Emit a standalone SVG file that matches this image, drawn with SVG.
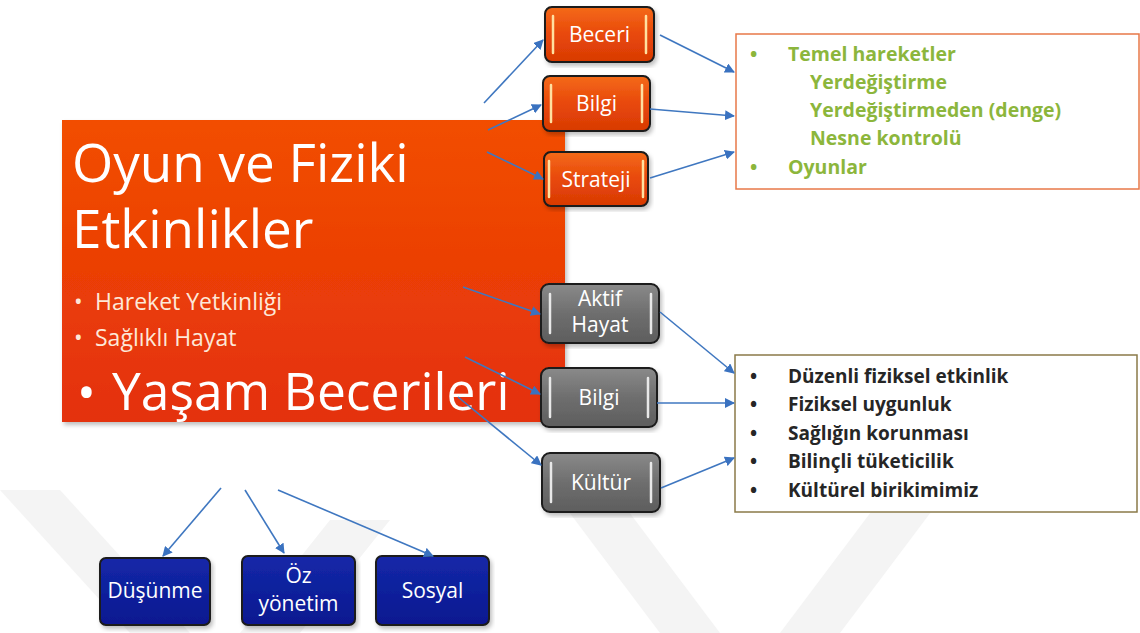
<svg xmlns="http://www.w3.org/2000/svg" width="1140" height="633" viewBox="0 0 1140 633">
<defs>
<linearGradient id="gMain" x1="0" y1="0" x2="0" y2="1"><stop offset="0" stop-color="#f24e00"/><stop offset="1" stop-color="#e4300c"/></linearGradient>
<linearGradient id="gOr" x1="0" y1="0" x2="0" y2="1"><stop offset="0" stop-color="#f46a1a"/><stop offset="0.5" stop-color="#e8480a"/><stop offset="1" stop-color="#d83a04"/></linearGradient>
<linearGradient id="gGr" x1="0" y1="0" x2="0" y2="1"><stop offset="0" stop-color="#8a8a8a"/><stop offset="0.5" stop-color="#6e6e6e"/><stop offset="1" stop-color="#5e5e5e"/></linearGradient>
<linearGradient id="gBl" x1="0" y1="0" x2="0" y2="1"><stop offset="0" stop-color="#1428a8"/><stop offset="1" stop-color="#0a1890"/></linearGradient>
<marker id="ah" viewBox="0 0 10 10" refX="9" refY="5" markerWidth="10" markerHeight="10" markerUnits="userSpaceOnUse" orient="auto"><path d="M0,0 L10,5 L0,10 z" fill="#3a72c0"/></marker>
<filter id="sh" x="-5%" y="-5%" width="110%" height="115%"><feDropShadow dx="2" dy="3" stdDeviation="2" flood-color="#000" flood-opacity="0.25"/></filter>
</defs>
<style>
.t{font-family:"Open Sans","Noto Sans","DejaVu Sans",sans-serif;}
.box{stroke:#1a1a1a;stroke-width:2;}
.bar{stroke:#ffe0a0;stroke-width:2.5;stroke-linecap:round;}
.gbar{stroke:#e8e8e8;stroke-width:2.5;stroke-linecap:round;}
.nt{font-family:"Open Sans","Noto Sans",sans-serif;font-size:21px;fill:#fff;text-anchor:middle;}
.gt{font-family:"Open Sans","Noto Sans",sans-serif;font-size:19.5px;font-weight:bold;fill:#8cb63c;}
.kt{font-family:"Open Sans","Noto Sans",sans-serif;font-size:19px;font-weight:bold;fill:#262626;}
.conn line{stroke:#3f77c0;stroke-width:1.6;marker-end:url(#ah);}
</style>
<rect width="1140" height="633" fill="#fff"/>
<g id="watermark" fill="#f4f4f4">
<polygon points="0,490 60,490 190,633 130,633"/>
<polygon points="330,520 390,520 300,633 240,633"/>
<polygon points="560,500 620,500 720,633 660,633"/>
<polygon points="880,500 940,500 840,633 780,633"/>
</g>
<g id="main">
<rect x="62" y="120" width="503" height="302" fill="url(#gMain)" filter="url(#sh)"/>
<text class="t" x="72" y="182" font-size="53" fill="#fff">Oyun ve Fiziki</text>
<text class="t" x="72" y="248" font-size="53" fill="#fff">Etkinlikler</text>
<text class="t" x="74" y="310" font-size="23" fill="#fde8d8">•</text>
<text class="t" x="95" y="310" font-size="23" fill="#fde8d8">Hareket Yetkinliği</text>
<text class="t" x="74" y="346" font-size="23" fill="#fde8d8">•</text>
<text class="t" x="95" y="346" font-size="23" fill="#fde8d8">Sağlıklı Hayat</text>
<text class="t" x="77" y="410" font-size="50" fill="#fff">•</text>
<text class="t" x="112" y="410" font-size="51.5" fill="#fff">Yaşam Becerileri</text>
</g>
<g id="n-beceri">
<rect class="box" x="545" y="7" width="109" height="55" rx="7" fill="url(#gOr)" filter="url(#sh)"/>
<line class="bar" x1="553" y1="16" x2="553" y2="53"/><line class="bar" x1="646" y1="16" x2="646" y2="53"/>
<text class="nt" x="599.5" y="42">Beceri</text>
</g>
<g id="n-bilgi1">
<rect class="box" x="543" y="76" width="107" height="55" rx="7" fill="url(#gOr)" filter="url(#sh)"/>
<line class="bar" x1="551" y1="85" x2="551" y2="122"/><line class="bar" x1="642" y1="85" x2="642" y2="122"/>
<text class="nt" x="596.5" y="111">Bilgi</text>
</g>
<g id="n-strateji">
<rect class="box" x="544" y="152" width="104" height="54" rx="7" fill="url(#gOr)" filter="url(#sh)"/>
<line class="bar" x1="549" y1="161" x2="549" y2="197"/><line class="bar" x1="643" y1="161" x2="643" y2="197"/>
<text class="nt" x="596" y="187" font-size="20">Strateji</text>
</g>
<g id="n-aktif">
<rect class="box" x="541" y="284" width="118" height="59" rx="8" fill="url(#gGr)" filter="url(#sh)"/>
<line class="gbar" x1="550" y1="294" x2="550" y2="333"/><line class="gbar" x1="651" y1="294" x2="651" y2="333"/>
<text class="nt" x="600" y="306" font-size="18">Aktif</text>
<text class="nt" x="600" y="332" font-size="18">Hayat</text>
</g>
<g id="n-bilgi2">
<rect class="box" x="541" y="368" width="116" height="59" rx="8" fill="url(#gGr)" filter="url(#sh)"/>
<line class="gbar" x1="550" y1="378" x2="550" y2="417"/><line class="gbar" x1="648" y1="378" x2="648" y2="417"/>
<text class="nt" x="599" y="405" font-size="22">Bilgi</text>
</g>
<g id="n-kultur">
<rect class="box" x="542" y="453" width="118" height="59" rx="8" fill="url(#gGr)" filter="url(#sh)"/>
<line class="gbar" x1="551" y1="463" x2="551" y2="502"/><line class="gbar" x1="651" y1="463" x2="651" y2="502"/>
<text class="nt" x="601" y="490" font-size="22">Kültür</text>
</g>
<g id="box-green">
<rect x="736" y="34" width="403" height="155" fill="#fff" stroke="#e87848" stroke-width="1.5"/>
<text class="gt" x="750" y="61">•</text><text class="gt" x="788" y="61">Temel hareketler</text>
<text class="gt" x="810" y="89">Yerdeğiştirme</text>
<text class="gt" x="810" y="117">Yerdeğiştirmeden (denge)</text>
<text class="gt" x="810" y="145">Nesne kontrolü</text>
<text class="gt" x="750" y="174">•</text><text class="gt" x="788" y="174">Oyunlar</text>
</g>
<g id="box-black">
<rect x="735" y="355" width="402" height="157" fill="#fff" stroke="#8a7a48" stroke-width="1.5"/>
<text class="kt" x="750" y="383">•</text><text class="kt" x="788" y="383">Düzenli fiziksel etkinlik</text>
<text class="kt" x="750" y="411">•</text><text class="kt" x="788" y="411">Fiziksel uygunluk</text>
<text class="kt" x="750" y="440">•</text><text class="kt" x="788" y="440">Sağlığın korunması</text>
<text class="kt" x="750" y="468">•</text><text class="kt" x="788" y="468">Bilinçli tüketicilik</text>
<text class="kt" x="750" y="497">•</text><text class="kt" x="788" y="497">Kültürel birikimimiz</text>
</g>
<g id="n-dusunme">
<rect class="box" x="100" y="558" width="110" height="67" rx="6" fill="url(#gBl)" filter="url(#sh)"/>
<text class="nt" x="155" y="598" font-size="20">Düşünme</text>
</g>
<g id="n-ozyonetim">
<rect class="box" x="242" y="556" width="113" height="69" rx="6" fill="url(#gBl)" filter="url(#sh)"/>
<text class="nt" x="298.5" y="583" font-size="19">Öz</text>
<text class="nt" x="298.5" y="611" font-size="19">yönetim</text>
</g>
<g id="n-sosyal">
<rect class="box" x="376" y="556" width="113" height="69" rx="6" fill="url(#gBl)" filter="url(#sh)"/>
<text class="nt" x="432.5" y="598" font-size="20">Sosyal</text>
</g>
<g id="connectors" class="conn">
<line x1="484" y1="103" x2="543" y2="40"/>
<line x1="488" y1="130" x2="541" y2="105"/>
<line x1="487" y1="152" x2="543" y2="179"/>
<line x1="463" y1="287" x2="540" y2="314"/>
<line x1="465" y1="357" x2="540" y2="394"/>
<line x1="458" y1="397" x2="541" y2="465"/>
<line x1="660" y1="35" x2="734" y2="72"/>
<line x1="650" y1="109" x2="734" y2="116"/>
<line x1="650" y1="178" x2="734" y2="152"/>
<line x1="660" y1="312" x2="734" y2="373"/>
<line x1="657" y1="403" x2="734" y2="403"/>
<line x1="661" y1="488" x2="734" y2="458"/>
<line x1="221" y1="488" x2="163" y2="556"/>
<line x1="245" y1="490" x2="284" y2="553"/>
<line x1="278" y1="490" x2="433" y2="556"/>
</g>
</svg>
